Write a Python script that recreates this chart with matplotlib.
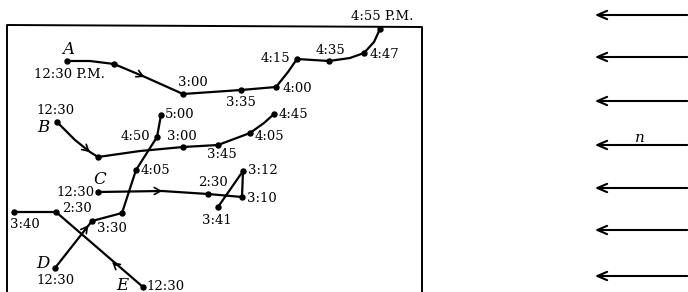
import matplotlib
matplotlib.use("Agg")
import matplotlib.pyplot as plt

# paths (pixel positions, y down)
path_a = [(67, 61), (90, 61), (114, 64), (145, 77), (183, 94), (241, 90), (276, 87),
          (288, 72), (297, 59), (329, 61), (350, 58), (364, 53), (374, 42), (380, 29)]
dots_a = [(67, 61), (114, 64), (183, 94), (241, 90), (276, 87), (297, 59), (329, 61), (364, 53), (380, 29)]
path_b = [(57, 122), (75, 140), (90, 152), (98, 157), (140, 151), (183, 147), (218, 145),
          (250, 133), (264, 123), (274, 114)]
dots_b = [(57, 122), (98, 157), (183, 147), (218, 145), (250, 133), (274, 114)]
path_c = [(98, 192), (162, 191), (208, 194), (242, 197), (243, 171), (218, 207)]
dots_c = [(98, 192), (208, 194), (242, 197), (243, 171), (218, 207)]
path_d = [(55, 268), (92, 221), (122, 213), (136, 170), (157, 137), (161, 115)]
dots_d = [(55, 268), (92, 221), (122, 213), (136, 170), (157, 137), (161, 115)]
path_e = [(143, 287), (56, 212), (14, 212)]
dots_e = [(143, 287), (56, 212), (14, 212)]

# direction arrows on the paths: (tail, head)
path_arrows = [((138, 74), (147, 78)), ((84, 147), (92, 154)),
               ((155, 191), (165, 191)), ((84, 231), (90, 223)), ((118, 267), (110, 260))]

# time labels: text, x, y
times = [("12:30 P.M.", 69, 75), ("3:00", 193, 82), ("3:35", 241, 102), ("4:00", 297, 89),
         ("4:15", 275, 59), ("4:35", 330, 50), ("4:47", 384, 54), ("4:55 P.M.", 382, 17),
         ("12:30", 55, 111), ("3:00", 182, 136), ("3:45", 222, 155), ("4:05", 269, 137),
         ("4:45", 293, 114), ("5:00", 180, 115), ("4:50", 135, 137), ("4:05", 155, 171),
         ("12:30", 75, 192), ("2:30", 213, 183), ("3:10", 262, 198), ("3:12", 263, 171),
         ("3:41", 217, 220), ("3:30", 112, 228), ("3:40", 25, 224), ("2:30", 77, 208),
         ("12:30", 55, 281), ("12:30", 166, 286)]
letters = [("A", 68, 49), ("B", 43, 128), ("C", 100, 179), ("D", 43, 264), ("E", 122, 285)]

# the wind arrows on the right
wind_y = [15, 57, 101, 145, 188, 230, 276]

fig = plt.figure(figsize=(6.88, 2.92), dpi=100)
ax = fig.add_axes([0, 0, 1, 1])
ax.set_xlim(0, 688)
ax.set_ylim(292, 0)
ax.axis("off")

# frame, open at the bottom
ax.plot([7, 7, 422, 422], [292, 25, 27, 292], color="black", lw=1.4)

for path in [path_a, path_b, path_c, path_d, path_e]:
    xs, ys = zip(*path)
    ax.plot(xs, ys, color="black", lw=1.6, solid_capstyle="round", solid_joinstyle="round")

for dots in [dots_a, dots_b, dots_c, dots_d, dots_e]:
    xs, ys = zip(*dots)
    ax.plot(xs, ys, "o", color="black", ms=3.6, ls="none")

for tail, head in path_arrows:
    ax.annotate("", xy=head, xytext=tail,
                arrowprops=dict(arrowstyle="->,head_length=0.45,head_width=0.25", color="black", lw=1.2))

serif = "DejaVu Serif"
for txt, x, y in times:
    ax.text(x, y, txt, ha="center", va="center", fontsize=9.5, family=serif)
for txt, x, y in letters:
    ax.text(x, y, txt, ha="center", va="center", fontsize=12, family=serif, style="italic")

for y in wind_y:
    ax.annotate("", xy=(592, y), xytext=(690, y),
                arrowprops=dict(arrowstyle="->,head_length=0.7,head_width=0.3", color="black", lw=1.5))
ax.text(640, 138, "n", ha="center", va="center", fontsize=11, family=serif, style="italic")

fig.savefig("out.png", dpi=100)
